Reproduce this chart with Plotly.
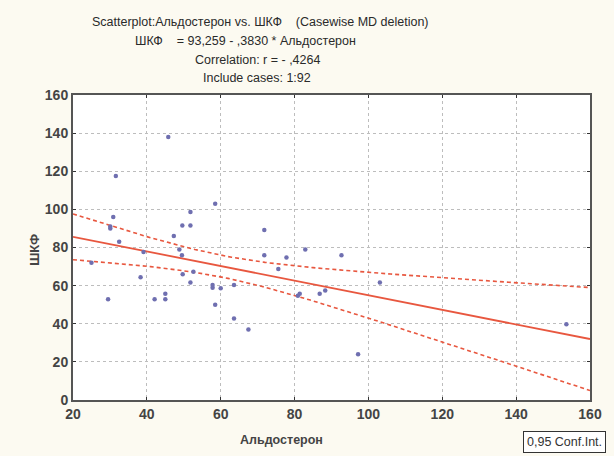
import numpy as np
import plotly.graph_objects as go

# Data
aldosterone = [25, 29.5, 30.1, 30.1, 30.9, 31.6, 32.5, 38.3, 39.1, 42.1, 45, 45,
               45.8, 47.3, 48.8, 49.5, 49.6, 49.7, 51.8, 51.8, 51.8, 52.6, 57.8, 57.8,
               58.5, 58.5, 60, 63.6, 63.6, 67.5, 71.8, 71.8, 75.6, 77.8, 80.9, 81.4,
               82.9, 86.8, 88.3, 92.7, 97.2, 103.1, 153.6]
skf = [72, 52.8, 91, 90, 96, 117.5, 83, 64.4, 77.6, 52.8, 52.8, 55.7,
       138, 86, 79, 76, 91.6, 66, 98.6, 91.6, 61.6, 67.3, 60.3, 58.9,
       103, 50, 58.6, 60.3, 42.8, 37, 89.2, 76, 68.7, 74.8, 54.7, 55.8,
       79, 55.8, 57.4, 76, 24, 61.6, 39.7]

# Regression parameters (from the chart title) and confidence band parameters
intercept = 93.259
slope = -0.3830
x_mean = 60.0
band_min_halfwidth = 5.7
band_slope_term = 0.264

x_ticks = [20, 40, 60, 80, 100, 120, 140, 160]
y_ticks = [0, 20, 40, 60, 80, 100, 120, 140, 160]

title_lines = [
    "Scatterplot:Альдостерон vs. ШКФ    (Casewise MD deletion)",
    "ШКФ    = 93,259 - ,3830 * Альдостерон",
    "Correlation: r = - ,4264",
    "Include cases: 1:92",
]
title_y_px = [22, 41, 60, 78]
title_x_px = [262, 246, 259, 258]

xs = np.linspace(20, 160, 141)
fit = intercept + slope * xs
hw = np.sqrt(band_min_halfwidth ** 2 + (band_slope_term * (xs - x_mean)) ** 2)

red = "#E8573F"
font_fam = "Liberation Sans Narrow, Arial Narrow, Liberation Sans, Arial"

L, R, T, B, W, H = 73, 21, 95, 56, 614, 456
pw, ph = W - L - R, H - T - B


def px_x(x):
    return (x - L) / pw


def px_y(y):
    return (H - B - y) / ph


fig = go.Figure()
fig.add_trace(go.Scatter(x=xs, y=fit + hw, mode="lines",
                         line=dict(color=red, width=1.6, dash="4px,3px"), hoverinfo="skip"))
fig.add_trace(go.Scatter(x=xs, y=fit - hw, mode="lines",
                         line=dict(color=red, width=1.6, dash="4px,3px"), hoverinfo="skip"))
fig.add_trace(go.Scatter(x=xs, y=fit, mode="lines",
                         line=dict(color=red, width=1.8), hoverinfo="skip"))
fig.add_trace(go.Scatter(x=aldosterone, y=skf, mode="markers",
                         marker=dict(color="#6F6FB0", size=4.5)))

axis_common = dict(
    showgrid=True, gridcolor="#BDBDBD", griddash="dot", gridwidth=1,
    showline=True, linecolor="#555555", linewidth=2, mirror="ticks",
    ticks="inside", ticklen=3, tickcolor="#333333", zeroline=False,
    tickfont=dict(family=font_fam, size=14, color="#444444", weight="bold"),
)

fig.update_layout(
    width=W, height=H,
    margin=dict(l=L, r=R, t=T, b=B),
    paper_bgcolor="#FCFAF1", plot_bgcolor="#FFFFFF",
    showlegend=False,
    xaxis=dict(range=[20, 160], tickvals=x_ticks, **axis_common),
    yaxis=dict(range=[0, 160], tickvals=y_ticks, **axis_common),
)

for t, xpx, ypx in zip(title_lines, title_x_px, title_y_px):
    fig.add_annotation(text=t, x=px_x(xpx), xref="paper", xanchor="center",
                       y=px_y(ypx), yref="paper", yanchor="middle", showarrow=False,
                       font=dict(family=font_fam, size=12.5, color="#2A2A2A"))

fig.add_annotation(text="Альдостерон", x=px_x(283), xref="paper", y=px_y(440), yref="paper",
                   yanchor="middle", showarrow=False,
                   font=dict(family=font_fam, size=12.5, color="#444444", weight="bold"))
fig.add_annotation(text="ШКФ", x=px_x(24), xref="paper", y=px_y(250), yref="paper",
                   textangle=-90, showarrow=False,
                   font=dict(family=font_fam, size=13, color="#444444", weight="bold"))
fig.add_annotation(text="0,95 Conf.Int.", x=px_x(609), xref="paper", xanchor="right",
                   y=px_y(442), yref="paper", yanchor="middle", showarrow=False,
                   bordercolor="#333333", borderwidth=1, borderpad=3, bgcolor="#FFFFFF",
                   font=dict(family=font_fam, size=12.5, color="#333333"))

fig.write_html("out.html")
